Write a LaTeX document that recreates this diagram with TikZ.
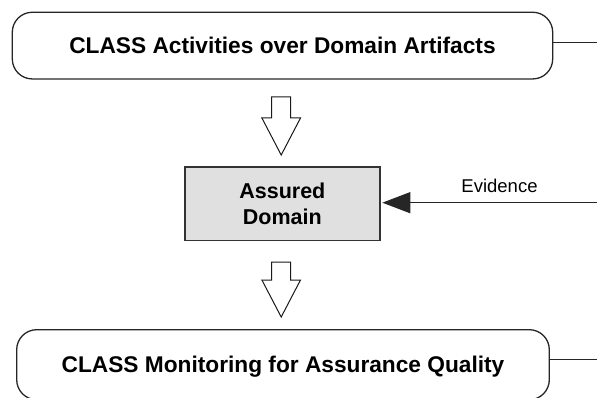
\documentclass[tikz,border=0pt]{standalone}
\usepackage{fontspec}
\setmainfont{Liberation Sans}
\usetikzlibrary{arrows.meta}
\begin{document}
\begin{tikzpicture}[x=1pt,y=-1pt,
  stage/.style={draw=black!85, line width=1.3pt, rounded corners=20pt,
    font=\fontsize{22.7}{26}\selectfont\bfseries, inner sep=0pt,
    text height=16.5pt, text depth=0pt},
  domainbox/.style={draw=black!80, line width=1.6pt, fill=black!12,
    font=\fontsize{21.5}{26}\selectfont\bfseries, align=center, inner sep=0pt},
  link/.style={draw=black!85, line width=1.3pt},
  hollow/.style={draw=black!90, fill=white, line width=1pt, line join=miter},
  tag/.style={font=\fontsize{18.5}{20}\selectfont, inner sep=0pt}
]
\useasboundingbox (0,0) rectangle (597,398);

% the three stages
\node[stage, minimum width=540.4pt, minimum height=66.7pt] (act) at (282.5,45.6)
  {CLASS Activities over Domain Artifacts};
\node[domainbox, minimum width=195.3pt, minimum height=73.2pt] (dom) at (282.35,203.9)
  {Assured\\Domain};
\node[stage, minimum width=532.6pt, minimum height=70pt] (mon) at (283,364.7)
  {CLASS Monitoring for Assurance Quality};

% lines leaving towards the right
\coordinate (actout) at (597,42.7);
\coordinate (monout) at (597,359.7);
\coordinate (evsrc) at (597,202.7);
\draw[link] (act.east |- actout) -- (actout);
\draw[link] (mon.east |- monout) -- (monout);

% evidence fed back into the assured domain
\draw[link, shorten >=1.5pt, -{Triangle[length=28pt,width=21pt]}] (evsrc) -- (dom.east |- evsrc);
\node[tag] (evlabel) at (499.5,185.5) {Evidence};

% hollow block arrows between the stages
\coordinate (a1) at (281.2,97);
\coordinate (a2) at (281.2,262);
\draw[hollow] (a1) ++(-9.5,0) -- ++(19,0) -- ++(0,21) -- ++(9.8,0) -- ++(-19.3,37)
  -- ++(-19.3,-37) -- ++(9.8,0) -- cycle;
\draw[hollow] (a2) ++(-9.5,0) -- ++(19,0) -- ++(0,18) -- ++(9.8,0) -- ++(-19.3,37)
  -- ++(-19.3,-37) -- ++(9.8,0) -- cycle;
\end{tikzpicture}
\end{document}
